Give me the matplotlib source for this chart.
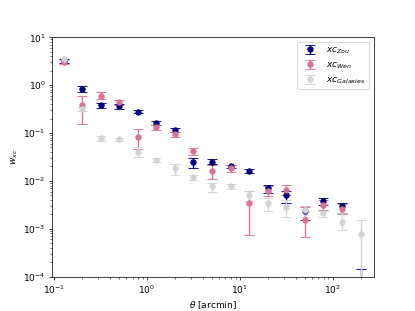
import numpy as np
import matplotlib
matplotlib.use('Agg')
import matplotlib.pyplot as plt

# angular bins [arcmin]
theta = [0.126, 0.2, 0.316, 0.5, 0.794, 1.26, 2.0, 3.16, 5.0, 7.94,
         12.6, 20.0, 31.6, 50.0, 79.4, 126.0, 200.0]

# Zou cross-correlation
w_zou = [3.2, 0.83, 0.38, 0.36, 0.28, 0.16, 0.117, 0.0245, 0.025, 0.020,
         0.0162, 0.0071, 0.0051, 0.0024, 0.0038, 0.0030, 3e-5]
lo_zou = [2.9, 0.72, 0.33, 0.32, 0.26, 0.145, 0.105, 0.019, 0.022, 0.0185,
          0.0148, 0.0057, 0.0035, 0.0015, 0.0032, 0.0021, 1e-6]
hi_zou = [3.5, 0.95, 0.42, 0.40, 0.30, 0.175, 0.128, 0.030, 0.028, 0.0215,
          0.0175, 0.0082, 0.0062, 0.0030, 0.0043, 0.0035, 1.47e-4]

# Wen cross-correlation
w_wen = [2.96, 0.38, 0.60, 0.44, 0.083, 0.136, 0.094, 0.042, 0.016, 0.0183,
         0.0034, 0.0063, 0.0066, 0.00153, 0.0032, 0.0026]
lo_wen = [2.7, 0.155, 0.50, 0.39, 0.047, 0.118, 0.081, 0.034, 0.0108, 0.0152,
          0.00073, 0.0048, 0.0050, 0.00069, 0.0025, 0.0020]
hi_wen = [3.3, 0.59, 0.70, 0.49, 0.12, 0.15, 0.107, 0.048, 0.0215, 0.0215,
          0.0063, 0.0080, 0.0082, 0.0028, 0.0040, 0.0033]

# galaxy-galaxy
w_gal = [3.52, 0.32, 0.078, 0.074, 0.041, 0.0274, 0.0183, 0.0121, 0.0077, 0.0077,
         0.0051, 0.0034, 0.0028, 0.0025, 0.0021, 0.0014, 0.00077]
lo_gal = [3.3, 0.29, 0.068, 0.068, 0.032, 0.025, 0.0135, 0.0105, 0.0059, 0.0069,
          0.0038, 0.0023, 0.0018, 0.0018, 0.0018, 0.00093, 1e-6]
hi_gal = [3.75, 0.35, 0.086, 0.080, 0.050, 0.030, 0.0230, 0.0135, 0.0092, 0.0087,
          0.0063, 0.0045, 0.0040, 0.0030, 0.0024, 0.0021, 0.00153]


def yerr(w, lo, hi):
    w = np.array(w)
    return [w - np.array(lo), np.array(hi) - w]


plt.figure(figsize=(6.4, 4.8), dpi=415 / 6.4)

plt.errorbar(theta, w_zou, yerr=yerr(w_zou, lo_zou, hi_zou), fmt='o',
             color='navy', capsize=5, label='$xc_{Zou}$')
plt.errorbar(theta[:16], w_wen, yerr=yerr(w_wen, lo_wen, hi_wen), fmt='o',
             color='palevioletred', capsize=5, label='$xc_{Wen}$')
plt.errorbar(theta, w_gal, yerr=yerr(w_gal, lo_gal, hi_gal), fmt='o',
             color='lightgray', capsize=5, label='$xc_{Galaxies}$')

plt.xscale('log')
plt.yscale('log')
plt.xlim(10**-1.025, 10**2.44)
plt.ylim(1e-4, 1e1)
plt.xlabel(r'$\theta$ [arcmin]')
plt.ylabel('$w_{xc}$')
plt.legend(loc='upper right')

plt.savefig('out.png', dpi=415 / 6.4)
